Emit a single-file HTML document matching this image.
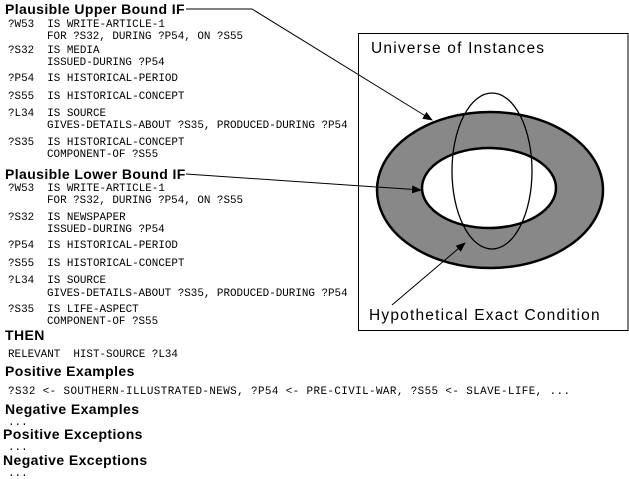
<!DOCTYPE html>
<html><head><style>
body{margin:0;background:#fff;}
svg{display:block;}
text{white-space:pre;}
.h{font-family:"Liberation Sans",sans-serif;font-weight:bold;font-size:14px;fill:#000;letter-spacing:0.4px;}
.m{font-family:"Liberation Mono",monospace;font-size:10.9px;fill:#000;}
.l{font-family:"Liberation Sans",sans-serif;font-size:15.5px;fill:#000;letter-spacing:1.2px;}
</style></head><body>
<svg width="629" height="479" viewBox="0 0 629 479" xmlns="http://www.w3.org/2000/svg" xml:space="preserve">
<defs><marker id="a" markerWidth="10" markerHeight="8" refX="9" refY="4" orient="auto" markerUnits="userSpaceOnUse"><path d="M0,0 L10,4 L0,8 z" fill="#000"/></marker></defs>
<rect x="358.5" y="33.5" width="269.5" height="297" fill="#fff" stroke="#000"/>
<ellipse cx="490" cy="190" rx="113" ry="78" fill="#888" stroke="#000" stroke-width="2.5"/>
<ellipse cx="489" cy="188" rx="67" ry="40" fill="#fff" stroke="#000" stroke-width="2.5"/>
<ellipse cx="492" cy="171" rx="40" ry="78" fill="none" stroke="#000" stroke-width="1.3"/>
<text class="l" x="371" y="53">Universe of Instances</text>
<text class="l" x="369" y="320">Hypothetical Exact Condition</text>
<polyline points="186,9 252,9 432,120" fill="none" stroke="#000" marker-end="url(#a)"/>
<line x1="186" y1="174" x2="421" y2="190" stroke="#000" marker-end="url(#a)"/>
<line x1="392" y1="305" x2="465" y2="243" stroke="#000" marker-end="url(#a)"/>
<text class="h" x="5" y="14">Plausible Upper Bound IF</text>
<g class="m">
<text x="8" y="27">?W53  IS WRITE-ARTICLE-1</text><text x="47" y="39">FOR ?S32, DURING ?P54, ON ?S55</text>
<text x="8" y="53">?S32  IS MEDIA</text><text x="47" y="65">ISSUED-DURING ?P54</text>
<text x="8" y="81">?P54  IS HISTORICAL-PERIOD</text>
<text x="8" y="99">?S55  IS HISTORICAL-CONCEPT</text>
<text x="8" y="116">?L34  IS SOURCE</text><text x="47" y="128">GIVES-DETAILS-ABOUT ?S35, PRODUCED-DURING ?P54</text>
<text x="8" y="145">?S35  IS HISTORICAL-CONCEPT</text><text x="47" y="157">COMPONENT-OF ?S55</text>
</g>
<text class="h" x="5" y="179">Plausible Lower Bound IF</text>
<g class="m">
<text x="8" y="191">?W53  IS WRITE-ARTICLE-1</text><text x="47" y="203">FOR ?S32, DURING ?P54, ON ?S55</text>
<text x="8" y="220">?S32  IS NEWSPAPER</text><text x="47" y="232">ISSUED-DURING ?P54</text>
<text x="8" y="248">?P54  IS HISTORICAL-PERIOD</text>
<text x="8" y="266">?S55  IS HISTORICAL-CONCEPT</text>
<text x="8" y="283">?L34  IS SOURCE</text><text x="47" y="296">GIVES-DETAILS-ABOUT ?S35, PRODUCED-DURING ?P54</text>
<text x="8" y="312">?S35  IS LIFE-ASPECT</text><text x="47" y="324">COMPONENT-OF ?S55</text>
</g>
<text class="h" x="5" y="340">THEN</text>
<text class="m" x="8" y="357">RELEVANT  HIST-SOURCE ?L34</text>
<text class="h" x="5" y="376">Positive Examples</text>
<text class="m" x="8" y="394" textLength="562">?S32 &lt;- SOUTHERN-ILLUSTRATED-NEWS, ?P54 &lt;- PRE-CIVIL-WAR, ?S55 &lt;- SLAVE-LIFE, ...</text>
<text class="h" x="5" y="414">Negative Examples</text>
<text class="m" x="8" y="425">...</text>
<text class="h" x="3" y="439">Positive Exceptions</text>
<text class="m" x="8" y="450">...</text>
<text class="h" x="3" y="465">Negative Exceptions</text>
<text class="m" x="8" y="476">...</text>
</svg>
</body></html>
